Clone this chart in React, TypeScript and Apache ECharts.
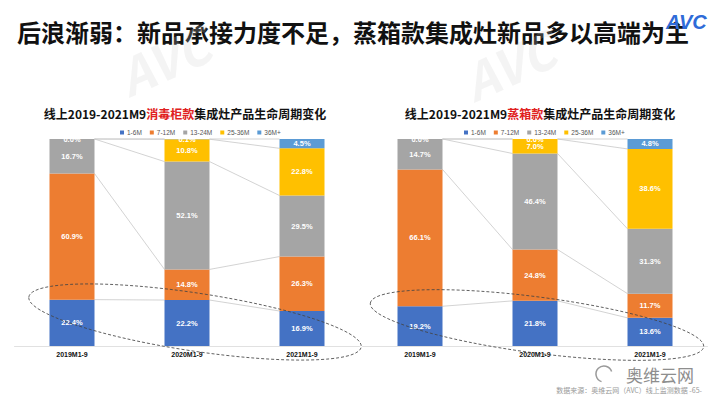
import React, { useEffect, useRef } from "react";
import * as echarts from "echarts";

const categories = ["2019M1-9", "2020M1-9", "2021M1-9"];
const seriesNames = ["1-6M", "7-12M", "13-24M", "25-36M", "36M+"];
const seriesColors = ["#4472C4", "#ED7D31", "#A5A5A5", "#FFC000", "#5B9BD5"];

// 消毒柜款 (left chart)
const leftM1_6 = [22.4, 22.2, 16.9];
const leftM7_12 = [60.9, 14.8, 26.3];
const leftM13_24 = [16.7, 52.1, 29.5];
const leftM25_36 = [0, 10.8, 22.8];
const leftM36p = [0, 0.1, 4.5];

// 蒸箱款 (right chart)
const rightM1_6 = [19.2, 21.8, 13.6];
const rightM7_12 = [66.1, 24.8, 11.7];
const rightM13_24 = [14.7, 46.4, 31.3];
const rightM25_36 = [0, 7.0, 38.6];
const rightM36p = [0, 0.0, 4.8];

const mainTitle = "后浪渐弱：新品承接力度不足，蒸箱款集成灶新品多以高端为主";
const leftTitleParts = ["线上2019-2021M9", "消毒柜款", "集成灶产品生命周期变化"];
const rightTitleParts = ["线上2019-2021M9", "蒸箱款", "集成灶产品生命周期变化"];
const sourceText = "数据来源：奥维云网（AVC）线上监测数据 -65-";

const BAR_W = 45;

function buildSeries(groups: number[][], gridIdx: number) {
  const out: any[] = groups.map((vals, k) => ({
    name: seriesNames[k],
    type: "bar",
    stack: "s" + gridIdx,
    xAxisIndex: gridIdx,
    yAxisIndex: gridIdx,
    barWidth: BAR_W,
    data: vals,
    itemStyle: { color: seriesColors[k] },
    z: 3,
    label: {
      show: true,
      position: "inside",
      color: "#fff",
      fontSize: 7.5,
      fontWeight: "bold",
      fontFamily: "Arial, Liberation Sans, sans-serif",
      formatter: (p: any) =>
        p.value === 0 && k !== 4 ? "" : Number(p.value).toFixed(1) + "%",
    },
  }));
  // cumulative connector lines
  const cum: number[][] = [];
  groups.forEach((vals, k) => {
    cum.push(vals.map((v, i) => v + (k > 0 ? cum[k - 1][i] : 0)));
  });
  const lineData: number[][] = [];
  cum.forEach((c) => {
    for (let i = 0; i < c.length - 1; i++) lineData.push([i, c[i], c[i + 1]]);
  });
  out.push({
    type: "custom",
    name: "connector" + gridIdx,
    xAxisIndex: gridIdx,
    yAxisIndex: gridIdx,
    z: 1,
    silent: true,
    encode: { x: 0, y: [1, 2] },
    data: lineData,
    renderItem: (params: any, api: any) => {
      const i = api.value(0);
      const p1 = api.coord([i, api.value(1)]);
      const p2 = api.coord([i + 1, api.value(2)]);
      return {
        type: "line",
        shape: {
          x1: p1[0] + BAR_W / 2,
          y1: p1[1],
          x2: p2[0] - BAR_W / 2,
          y2: p2[1],
        },
        style: { stroke: "#C8C8C8", lineWidth: 0.8 },
      };
    },
  });
  return out;
}

export default function App() {
  const ref = useRef<HTMLDivElement>(null);
  useEffect(() => {
    if (!ref.current) return;
    const chart = echarts.init(ref.current, null, { renderer: "svg" });
    const leftGroups = [leftM1_6, leftM7_12, leftM13_24, leftM25_36, leftM36p];
    const rightGroups = [rightM1_6, rightM7_12, rightM13_24, rightM25_36, rightM36p];
    const font = "'Noto Sans CJK SC', sans-serif";
    const mkTitle = (parts: string[], cx: number) => ({
      left: cx,
      top: 102,
      textAlign: "center",
      text: `{a|${parts[0]}}{r|${parts[1]}}{a|${parts[2]}}`,
      textStyle: {
        rich: {
          a: { fontSize: 12, fontWeight: "bold", color: "#111", fontFamily: font },
          r: { fontSize: 12, fontWeight: "bold", color: "#E02020", fontFamily: font },
        },
      },
    });
    const xAxisBase = {
      type: "category",
      data: categories,
      axisTick: { show: false },
      axisLine: { show: true, lineStyle: { color: "#D9D9D9", width: 0.8 } },
      axisLabel: {
        fontSize: 7,
        fontWeight: "bold",
        color: "#111",
        margin: 5,
        fontFamily: "Arial, Liberation Sans, sans-serif",
      },
    };
    const yAxisBase = {
      type: "value",
      min: 0,
      max: 100,
      show: false,
      splitLine: { show: false },
    };
    const legendBase = {
      data: seriesNames,
      top: 124,
      itemWidth: 4,
      itemHeight: 4,
      itemGap: 8,
      icon: "rect",
      textStyle: { fontSize: 6.5, color: "#555", fontFamily: "Arial, sans-serif", padding: [0, 0, 0, -2] },
    };
    const wm = (x: number, y: number, text: string, size: number) => ({
      type: "text",
      x,
      y,
      rotation: 0.42,
      z: 20,
      silent: true,
      style: {
        text,
        fontSize: size,
        fontWeight: "bold",
        fontStyle: "italic",
        fill: "rgba(205,205,205,0.22)",
        fontFamily: font,
      },
    });
    chart.setOption({
      animation: false,
      backgroundColor: "#fff",
      title: [
        {
          left: 12,
          top: 14,
          text: mainTitle,
          textStyle: { fontSize: 24, fontWeight: "bold", color: "#111", fontFamily: font },
        },
        mkTitle(leftTitleParts, 180),
        mkTitle(rightTitleParts, 535),
      ],
      legend: [
        { ...legendBase, left: 115 },
        { ...legendBase, left: 459 },
      ],
      grid: [
        { left: 14.5, width: 345, top: 139, height: 207 },
        { left: 362.5, width: 345, top: 139, height: 207 },
      ],
      xAxis: [
        { ...xAxisBase, gridIndex: 0 },
        { ...xAxisBase, gridIndex: 1 },
      ],
      yAxis: [
        { ...yAxisBase, gridIndex: 0 },
        { ...yAxisBase, gridIndex: 1 },
      ],
      series: [...buildSeries(leftGroups, 0), ...buildSeries(rightGroups, 1)],
      graphic: [
        {
          type: "text",
          left: 666,
          top: 12,
          z: 50,
          style: {
            text: "AVC",
            fontSize: 20,
            fontStyle: "italic",
            fontWeight: "bold",
            fill: "#2F6BD8",
            fontFamily: "Arial, sans-serif",
          },
        },
        // watermarks (kept in blank gaps)
        wm(110, 55, "AVC", 50),
        wm(455, 60, "AVC", 50),
        // dashed ellipses
        {
          type: "ellipse",
          x: 195,
          y: 322,
          rotation: -0.15,
          z: 60,
          shape: { cx: 0, cy: 0, rx: 168, ry: 29 },
          style: { fill: "none", stroke: "#444", lineWidth: 0.8, lineDash: [3, 2] },
        },
        {
          type: "ellipse",
          x: 537,
          y: 325,
          rotation: -0.13,
          z: 60,
          shape: { cx: 0, cy: 0, rx: 168, ry: 28 },
          style: { fill: "none", stroke: "#444", lineWidth: 0.8, lineDash: [3, 2] },
        },
        // footer logo and source
        {
          type: "arc",
          x: 604,
          y: 374,
          z: 50,
          shape: { cx: 0, cy: 0, r: 8, startAngle: Math.PI * 0.6, endAngle: Math.PI * 1.9 },
          style: { fill: "none", stroke: "#9A9A9A", lineWidth: 1.5 },
        },
        {
          type: "text",
          x: 626,
          y: 374,
          z: 50,
          style: { text: "奥维云网", fontSize: 17, fill: "#8E8E8E", fontFamily: font, verticalAlign: "middle" },
        },
        {
          type: "text",
          right: 18,
          top: 386,
          z: 50,
          style: { text: sourceText, fontSize: 7, fill: "#9A9A9A", fontFamily: font },
        },
      ],
    });
    return () => chart.dispose();
  }, []);
  return <div ref={ref} style={{ width: 720, height: 405, position: "absolute", left: 0, top: 0 }} />;
}
